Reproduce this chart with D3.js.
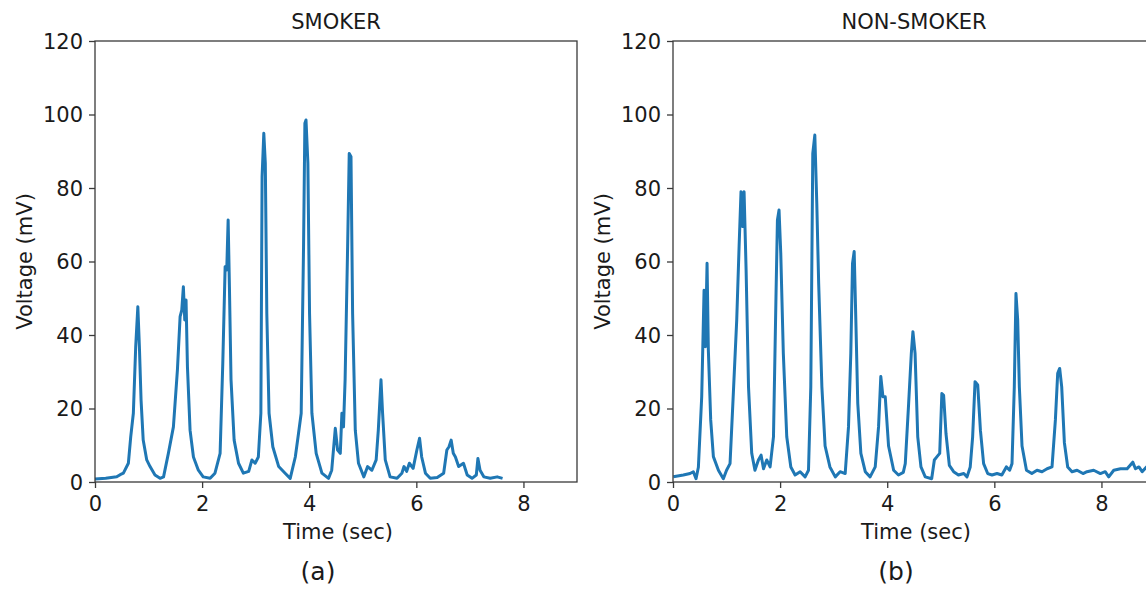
<!DOCTYPE html>
<html>
<head>
<meta charset="utf-8">
<script src="https://cdn.jsdelivr.net/npm/d3@7"></script>
<style>
  body { margin: 0; background: #fff; }
  svg text { font-family: "DejaVu Sans", sans-serif; fill: #1a1a1a; }
  .axis path, .axis line { stroke: #3a3a3a; stroke-width: 1.3; }
  .line { fill: none; stroke: #1f77b4; stroke-width: 3; stroke-linejoin: round; }
</style>
</head>
<body>
<svg id="chart" width="1146" height="592"></svg>
<script>
// SMOKER trace (sec, mV)
const smokerTime = [0, 0.2, 0.405, 0.47, 0.53, 0.623, 0.667, 0.716, 0.76, 0.80, 0.829, 0.86, 0.90, 0.966, 1.028, 1.12, 1.215,
  1.28, 1.37, 1.464, 1.539, 1.589, 1.62, 1.65, 1.676, 1.70, 1.726, 1.775, 1.838, 1.93, 2.02, 2.15,
  2.24, 2.336, 2.386, 2.43, 2.46, 2.486, 2.51, 2.54, 2.598, 2.68, 2.77, 2.87, 2.93, 2.99, 3.05,
  3.097, 3.12, 3.152, 3.18, 3.208, 3.25, 3.32, 3.43, 3.55, 3.645,
  3.74, 3.80, 3.85, 3.894, 3.919, 3.94, 3.975, 4.006, 4.05, 4.13, 4.237, 4.36,
  4.42, 4.487, 4.53, 4.58, 4.61, 4.64, 4.67, 4.717, 4.747, 4.78, 4.81, 4.86, 4.92, 5.02,
  5.09, 5.17, 5.25, 5.29, 5.34, 5.37, 5.42, 5.51, 5.64, 5.73, 5.77, 5.82, 5.87, 5.94,
  6.01, 6.06, 6.10, 6.17, 6.26, 6.39, 6.51, 6.57, 6.61, 6.65, 6.69, 6.73, 6.79, 6.88, 6.95,
  7.04, 7.12, 7.15, 7.19, 7.26, 7.38, 7.51, 7.61];
const smokerVoltage = [0.8, 1.0, 1.4, 2.0, 2.4, 5.1, 12.3, 18.7, 36.8, 47.7, 36.8, 22.3, 11.4, 6.0, 4.2, 1.9, 1.0,
  1.4, 7.8, 15.0, 30.5, 45.0, 46.8, 53.1, 44.1, 49.5, 31.4, 14.1, 6.8, 3.2, 1.4, 1.0,
  2.4, 7.8, 32.3, 58.6, 57.7, 71.3, 53.1, 27.8, 11.4, 5.1, 2.4, 2.9, 6.0, 5.1, 6.8,
  18.7, 83.1, 94.9, 86.7, 45.9, 18.7, 9.6, 4.2, 2.4, 1.0,
  6.8, 13.2, 18.7, 64.0, 97.6, 98.5, 86.7, 45.9, 18.7, 7.8, 2.4, 1.0,
  3.2, 14.6, 8.7, 7.8, 18.7, 15.0, 27.8, 64.0, 89.4, 88.5, 45.9, 14.1, 5.1, 1.4,
  4.2, 3.2, 6.0, 14.1, 27.8, 18.7, 6.0, 1.4, 1.0, 2.4, 4.2, 2.9, 5.1, 3.7,
  8.7, 11.9, 6.8, 2.4, 1.0, 1.2, 2.4, 8.7, 9.6, 11.4, 7.8, 6.8, 4.2, 5.1, 1.9,
  1.0, 1.9, 6.4, 3.2, 1.4, 1.0, 1.4, 1.0];

// NON-SMOKER trace (sec, mV)
const nonSmokerTime = [0.006, 0.193, 0.318, 0.38, 0.43, 0.474, 0.536, 0.58, 0.605, 0.636, 0.66, 0.704, 0.754, 0.848, 0.94,
  1.0, 1.065, 1.115, 1.19, 1.234, 1.27, 1.30, 1.327, 1.365, 1.41, 1.47, 1.53, 1.595, 1.645, 1.69, 1.75, 1.813,
  1.876, 1.925, 1.95, 1.98, 2.012, 2.06, 2.124, 2.20, 2.28, 2.374, 2.467,
  2.53, 2.573, 2.61, 2.648, 2.685, 2.72, 2.78, 2.84, 2.93, 3.03, 3.12, 3.215,
  3.277, 3.32, 3.352, 3.383, 3.414, 3.45, 3.508, 3.59, 3.68, 3.776,
  3.838, 3.88, 3.92, 3.963, 4.025, 4.12, 4.21, 4.30,
  4.337, 4.40, 4.45, 4.48, 4.52, 4.57, 4.63, 4.71, 4.83, 4.88, 4.93, 4.98, 5.02, 5.053, 5.097, 5.16, 5.24, 5.33, 5.43, 5.49,
  5.55, 5.595, 5.64, 5.69, 5.74, 5.80, 5.876, 5.957, 6.05, 6.14, 6.224, 6.286, 6.33,
  6.373, 6.404, 6.436, 6.467, 6.517, 6.60, 6.70, 6.797, 6.89, 6.985, 7.077,
  7.14, 7.183, 7.22, 7.258, 7.308, 7.37, 7.45, 7.545, 7.656, 7.73, 7.856, 7.98, 8.07, 8.136,
  8.23, 8.355, 8.48, 8.585, 8.635, 8.70, 8.76, 8.84, 8.92, 9.0];
const nonSmokerVoltage = [1.45, 1.9, 2.3, 2.8, 0.9, 4.0, 23.2, 52.2, 36.8, 59.5, 35.9, 16.9, 6.9, 3.2, 0.9,
  3.2, 5.0, 20.5, 44.1, 64.0, 79.0, 69.5, 79.0, 57.7, 25.9, 7.8, 3.2, 6.0, 7.3, 3.6, 6.0, 4.1,
  12.3, 52.2, 71.3, 74.0, 62.3, 35.0, 12.3, 4.1, 1.9, 2.8, 1.4,
  3.2, 25.9, 89.4, 94.4, 75.8, 54.0, 25.9, 9.8, 4.1, 1.4, 2.8, 2.3,
  15.0, 35.0, 59.5, 62.7, 44.1, 21.4, 7.8, 2.8, 1.4, 4.1,
  15.0, 28.7, 23.2, 23.2, 9.8, 3.2, 1.9, 2.6,
  5.0, 21.4, 35.0, 40.9, 35.0, 12.3, 4.1, 1.4, 0.9, 6.0, 6.9, 7.8, 24.1, 23.6, 13.2, 4.5, 2.8, 1.9, 2.3, 1.4,
  4.1, 12.3, 27.3, 26.4, 14.1, 5.0, 2.3, 1.9, 2.3, 1.9, 4.1, 3.2, 5.0,
  25.9, 51.3, 44.1, 25.9, 9.8, 3.2, 2.3, 3.2, 2.8, 3.6, 4.1,
  16.9, 29.6, 30.9, 25.9, 10.7, 4.1, 2.8, 3.2, 2.3, 2.8, 3.2, 2.3, 2.8, 1.4,
  3.2, 3.6, 3.6, 5.4, 3.6, 4.1, 2.8, 4.1, 3.5, 3.0];

const xTicks = [0, 2, 4, 6, 8];
const yTicks = [0, 20, 40, 60, 80, 100, 120];
const panelTitles = ["SMOKER", "NON-SMOKER"];
const panelCaptions = ["(a)", "(b)"];

const svg = d3.select("#chart");
const plotW = 482, plotH = 441, marginTop = 41;
const panelLeft = [95, 673];

function drawPanel(i, times, volts) {
  const left = panelLeft[i];
  const g = svg.append("g").attr("transform", "translate(" + left + "," + marginTop + ")");

  const xScale = d3.scaleLinear().domain([0, 9]).range([0, plotW]);
  const yScale = d3.scaleLinear().domain([0, 120]).range([plotH, 0]);

  const data = times.map((t, k) => ({t: t, v: volts[k]}));
  const line = d3.line()
    .x(d => xScale(d.t))
    .y(d => yScale(d.v));

  g.append("path")
    .datum(data)
    .attr("class", "line")
    .attr("d", line);

  // frame
  g.append("rect")
    .attr("width", plotW).attr("height", plotH)
    .attr("fill", "none").attr("stroke", "#3a3a3a").attr("stroke-width", 1.3);

  const xAxis = g.append("g")
    .attr("class", "axis")
    .attr("transform", "translate(0," + plotH + ")")
    .call(d3.axisBottom(xScale).tickValues(xTicks).tickSize(6).tickPadding(6).tickSizeOuter(0));
  xAxis.select(".domain").remove();
  xAxis.selectAll("text").attr("font-size", 21).attr("dy", null).attr("y", 29);

  const yAxis = g.append("g")
    .attr("class", "axis")
    .call(d3.axisLeft(yScale).tickValues(yTicks).tickSize(6).tickSizeOuter(0));
  yAxis.select(".domain").remove();
  yAxis.selectAll("text").attr("font-size", 21).attr("x", -12).attr("dy", "0.35em");

  g.append("text")
    .attr("x", plotW / 2).attr("y", -12)
    .attr("text-anchor", "middle").attr("font-size", 21)
    .text(panelTitles[i]);

  g.append("text")
    .attr("x", plotW / 2 + 2).attr("y", plotH + 57)
    .attr("text-anchor", "middle").attr("font-size", 21)
    .text("Time (sec)");

  g.append("text")
    .attr("transform", "translate(-63," + (plotH / 2) + ") rotate(-90)")
    .attr("text-anchor", "middle").attr("font-size", 21)
    .text("Voltage (mV)");

  g.append("text")
    .attr("x", plotW / 2 - 18).attr("y", plotH + 98)
    .attr("text-anchor", "middle").attr("font-size", 25)
    .text(panelCaptions[i]);
}

drawPanel(0, smokerTime, smokerVoltage);
drawPanel(1, nonSmokerTime, nonSmokerVoltage);
</script>
</body>
</html>
